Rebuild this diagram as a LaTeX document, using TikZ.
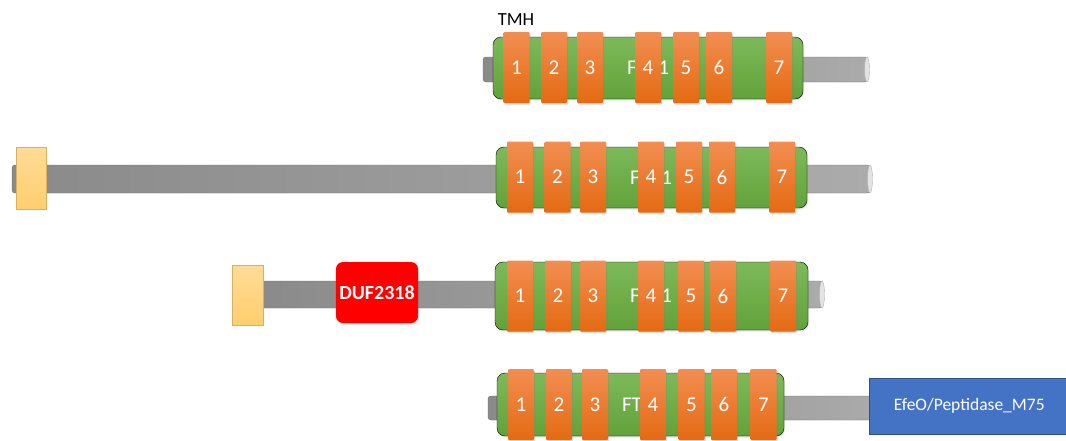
\documentclass[tikz,border=0pt]{standalone}
\usepackage{fontspec}
\setmainfont{Carlito}
\usetikzlibrary{shadows}
\definecolor{helixtop}{HTML}{F28E52}
\definecolor{helixbot}{HTML}{E46A12}
\definecolor{bartop}{HTML}{7DB95A}
\definecolor{barbot}{HTML}{62A23A}
\definecolor{rodleft}{HTML}{8A8A8A}
\definecolor{rodright}{HTML}{ABABAB}
\definecolor{sigtop}{HTML}{FFDB98}
\definecolor{sigbot}{HTML}{FFCF6E}
\definecolor{dufred}{HTML}{FF0000}
\definecolor{efeoblue}{HTML}{4472C4}
\tikzset{
  rod/.style={draw=rodleft!80!black, line width=0.4pt, rounded corners=3pt, left color=rodleft, right color=rodright},
  rodcap/.style={fill=gray!22, draw=gray!60, line width=0.4pt},
  tmbar/.style={rounded corners=8pt, top color=bartop, bottom color=barbot, drop shadow={opacity=0.2, shadow xshift=1pt, shadow yshift=-1.5pt}},
  helix/.style={rectangle, rounded corners=1pt, minimum width=26pt, minimum height=71pt, inner sep=0pt,
    top color=helixtop, bottom color=helixbot, text=white, font=\fontsize{21}{21}\selectfont,
    drop shadow={opacity=0.25, shadow xshift=1pt, shadow yshift=-1.5pt}},
  famlabel/.style={text=white, font=\fontsize{21}{21}\selectfont, inner sep=0pt},
  sigpep/.style={top color=sigtop, bottom color=sigbot, draw=sigbot!85!black, line width=0.3pt},
}
\begin{document}
\begin{tikzpicture}[x=1pt, y=-1pt]
  \useasboundingbox (0,0) rectangle (1066,440);
  % first row
  \draw[rod] (483,57) rectangle (867,82);
  \draw[rodcap] (867,69.5) ellipse (2.5pt and 12.5pt);
  \draw[tmbar] (493,37) rectangle (803,99);
  \node[famlabel] (fam1) at (648,68) {FTR1};
  \foreach \x [count=\i] in {516.5,554,590,648,686,719,779}
    \node[helix] (r1h\i) at (\x,67.5) {\i};
  \node[font=\fontsize{18.5}{18.5}\selectfont, inner sep=0pt] (tmh) at (516,20) {TMH};
  % second row
  \draw[rod] (12,165) rectangle (870,193);
  \draw[rodcap] (870,179) ellipse (2.5pt and 14pt);
  \draw[sigpep] (16,147) rectangle (46,209);
  \draw[tmbar] (496,147) rectangle (807,208);
  \node[famlabel] (fam2) at (651,178) {FTR1};
  \foreach \x [count=\i] in {520,557.5,593,651,689,722,782}
    \node[helix] (r2h\i) at (\x,177) {\i};
  % third row
  \draw[rod] (256,281) rectangle (822,308);
  \draw[rodcap] (822,294.5) ellipse (2.5pt and 13.5pt);
  \draw[sigpep] (232,265) rectangle (263,325);
  \node[rectangle, rounded corners=7pt, fill=dufred, minimum width=82pt, minimum height=61pt, text=white,
    font=\bfseries\fontsize{20}{20}\selectfont, drop shadow={opacity=0.2, shadow xshift=1pt, shadow yshift=-1.5pt}]
    (duf) at (377,292.5) {DUF2318};
  \draw[tmbar] (495,262) rectangle (808,330);
  \node[famlabel] (fam3) at (651,296) {FTR1};
  \foreach \x [count=\i] in {520,558,593,651,691,723,783}
    \node[helix] (r3h\i) at (\x,296) {\i};
  % fourth row
  \draw[rod] (488,396) rectangle (880,420);
  \draw[tmbar] (497,373) rectangle (784,436);
  \node[famlabel] (fam4) at (643,405) {FTR1};
  \foreach \x [count=\i] in {521,559,595,653,691.5,724,763.5}
    \node[helix] (r4h\i) at (\x,404.5) {\i};
  \node[rectangle, fill=efeoblue, draw=efeoblue!70!black, line width=0.5pt, minimum width=200pt, minimum height=56pt,
    text=white, font=\fontsize{17.5}{17.5}\selectfont, anchor=west] (efeo) at (869,406) {EfeO/Peptidase\_M75};
\end{tikzpicture}
\end{document}
